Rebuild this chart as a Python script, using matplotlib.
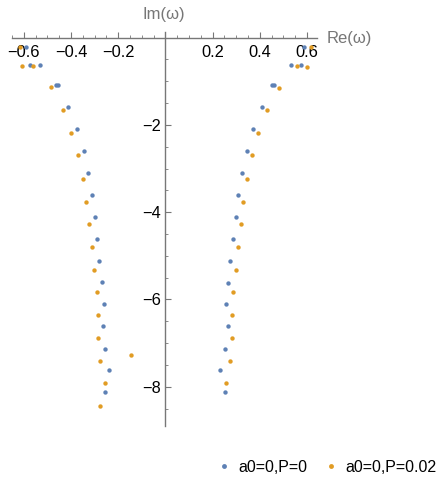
import matplotlib
matplotlib.use("Agg")
import matplotlib.pyplot as plt
from matplotlib.ticker import MultipleLocator, FixedLocator
from matplotlib.lines import Line2D

plt.rcParams['font.family'] = ['Liberation Sans', 'DejaVu Sans']

labels = ["a0=0,P=0", "a0=0,P=0.02"]
colors = ["#5E81B5", "#E19C24"]

blue_re = [-0.592, -0.575, -0.533, -0.465, -0.457, -0.411, -0.375, -0.347, -0.328, -0.312,
           -0.300, -0.290, -0.280, -0.267, -0.261, -0.266, -0.257, -0.237, -0.256,
           0.587, 0.530, 0.573, 0.452, 0.460, 0.407, 0.370, 0.344, 0.323, 0.308,
           0.297, 0.285, 0.275, 0.263, 0.258, 0.263, 0.253, 0.233, 0.251]
blue_im = [-0.21, -0.633, -0.625, -1.09, -1.09, -1.588, -2.085, -2.589, -3.10, -3.60,
           -4.107, -4.61, -5.116, -5.61, -6.108, -6.61, -7.125, -7.61, -8.117,
           -0.21, -0.625, -0.633, -1.09, -1.09, -1.588, -2.085, -2.596, -3.10, -3.60,
           -4.107, -4.61, -5.116, -5.62, -6.108, -6.61, -7.13, -7.61, -8.117]

orange_re = [-0.617, -0.606, -0.562, -0.486, -0.436, -0.398, -0.372, -0.350, -0.335, -0.322,
             -0.311, -0.301, -0.290, -0.284, -0.287, -0.148, -0.278, -0.258, -0.277,
             0.616, 0.558, 0.600, 0.481, 0.432, 0.394, 0.367, 0.347, 0.330, 0.318,
             0.308, 0.298, 0.285, 0.280, 0.282, 0.274, 0.255]
orange_im = [-0.21, -0.655, -0.655, -1.136, -1.65, -2.176, -2.694, -3.23, -3.757, -4.275,
             -4.80, -5.32, -5.84, -6.35, -6.88, -7.27, -7.41, -7.92, -8.445,
             -0.21, -0.648, -0.664, -1.145, -1.65, -2.176, -2.694, -3.23, -3.757, -4.275,
             -4.80, -5.32, -5.84, -6.36, -6.88, -7.41, -7.92]

xticks = [-0.6, -0.4, -0.2, 0.2, 0.4, 0.6]
xticklabels = ["\u22120.6", "\u22120.4", "\u22120.2", "0.2", "0.4", "0.6"]
yticks = [-2, -4, -6, -8]
yticklabels = ["\u22122", "\u22124", "\u22126", "\u22128"]

fig = plt.figure(figsize=(4.46, 4.78), dpi=100)
ax = fig.add_axes([12/446, 52/478, 305/446, 394/478])
ax.set_xlim(-0.650, 0.642)
ax.set_ylim(-8.9, 0.13)

ax.scatter(blue_re, blue_im, s=10, color=colors[0], linewidths=0, zorder=3, clip_on=False)
ax.scatter(orange_re, orange_im, s=10, color=colors[1], linewidths=0, zorder=3, clip_on=False)

for side in ['top', 'right']:
    ax.spines[side].set_visible(False)
ax.spines['left'].set_position(('data', 0))
ax.spines['bottom'].set_position(('data', 0))
for side in ['left', 'bottom']:
    ax.spines[side].set_color('#777777')
    ax.spines[side].set_linewidth(1.0)

ax.xaxis.set_major_locator(FixedLocator(xticks))
ax.set_xticklabels(xticklabels)
ax.xaxis.set_minor_locator(MultipleLocator(0.05))
ax.yaxis.set_major_locator(FixedLocator(yticks))
ax.set_yticklabels(yticklabels)
ax.yaxis.set_minor_locator(MultipleLocator(0.5))

ax.tick_params(which='both', direction='in', color='#777777', labelsize=11.8, labelcolor='black')
ax.tick_params(axis='x', which='major', length=4, width=0.8, pad=5)
ax.tick_params(axis='x', which='minor', length=2.5, width=0.6)
ax.tick_params(axis='y', which='major', length=4, width=0.8, pad=3)
ax.tick_params(axis='y', which='minor', length=2.5, width=0.6)

fig.text(164/446, 1 - 15/478, "Im(\u03c9)", ha='center', va='center', fontsize=12, color='#777777')
fig.text(327/446, 1 - 39/478, "Re(\u03c9)", ha='left', va='center', fontsize=12, color='#777777')

handles = [Line2D([], [], linestyle='none', marker='o', markersize=3.5, color=c, markeredgewidth=0)
           for c in colors]
fig.legend(handles, labels, loc='center right', bbox_to_anchor=(1.0, 1 - 467/478), ncol=2,
           frameon=False, fontsize=11.5, handlelength=0.6, handletextpad=0.6, columnspacing=1.2,
           borderaxespad=0.2)

fig.savefig("out.png", dpi=100)
